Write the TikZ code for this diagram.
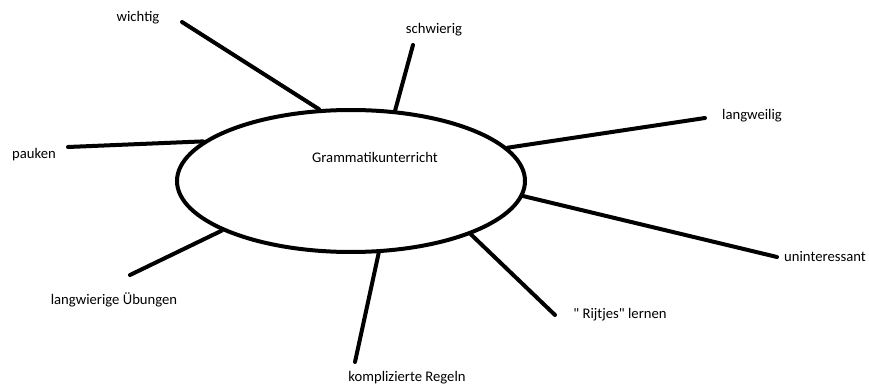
\documentclass[tikz,border=0pt]{standalone}
\usepackage{fontspec}
\setmainfont{Carlito}[Ligatures=TeXOff]
\usepackage{tikz}
\usetikzlibrary{shapes.geometric}

\tikzset{
  spoke/.style={line width=3pt, line cap=round},
  word/.style={inner sep=0pt, font=\fontsize{11}{13}\selectfont}
}

\begin{document}
\begin{tikzpicture}[x=0.75pt, y=-0.75pt]
\useasboundingbox (0,0) rectangle (869,385);
% Mitte
\node[draw, ellipse, line width=3pt, minimum width=261pt, minimum height=106.5pt, inner sep=0pt] (gr) at (351,181) {};
\node[word] (topic) at (375,157) {Grammatikunterricht};
% Begriffe
\node[word] (wichtig) at (138,18) {wichtig};
\node[word] (schwierig) at (434,30) {schwierig};
\node[word] (langweilig) at (752,116) {langweilig};
\node[word] (pauken) at (34,155) {pauken};
\node[word] (uninteressant) at (825,257) {uninteressant};
\node[word] (rijtjes) at (620,315) {" Rijtjes" lernen};
\node[word] (regeln) at (407,378) {komplizierte Regeln};
\node[word] (uebungen) at (114,300) {langwierige Übungen};
% freie Enden
\coordinate (wichtigEnd) at (182,22);
\coordinate (schwierigEnd) at (413,45);
\coordinate (langweiligEnd) at (705,118);
\coordinate (paukenEnd) at (68,147);
\coordinate (uninteressantEnd) at (777,257);
\coordinate (rijtjesEnd) at (555,315);
\coordinate (regelnEnd) at (355,362);
\coordinate (uebungenEnd) at (130,275);
% Striche
\draw[spoke] (gr.114) -- (wichtigEnd);
\draw[spoke] (gr.58) -- (schwierigEnd);
\draw[spoke] (gr.12) -- (langweiligEnd);
\draw[spoke] (gr.165) -- (paukenEnd);
\draw[spoke] (gr.-5) -- (uninteressantEnd);
\draw[spoke] (gr.-24) -- (rijtjesEnd);
\draw[spoke] (gr.-69) -- (regelnEnd);
\draw[spoke] (gr.-159) -- (uebungenEnd);
\end{tikzpicture}
\end{document}
